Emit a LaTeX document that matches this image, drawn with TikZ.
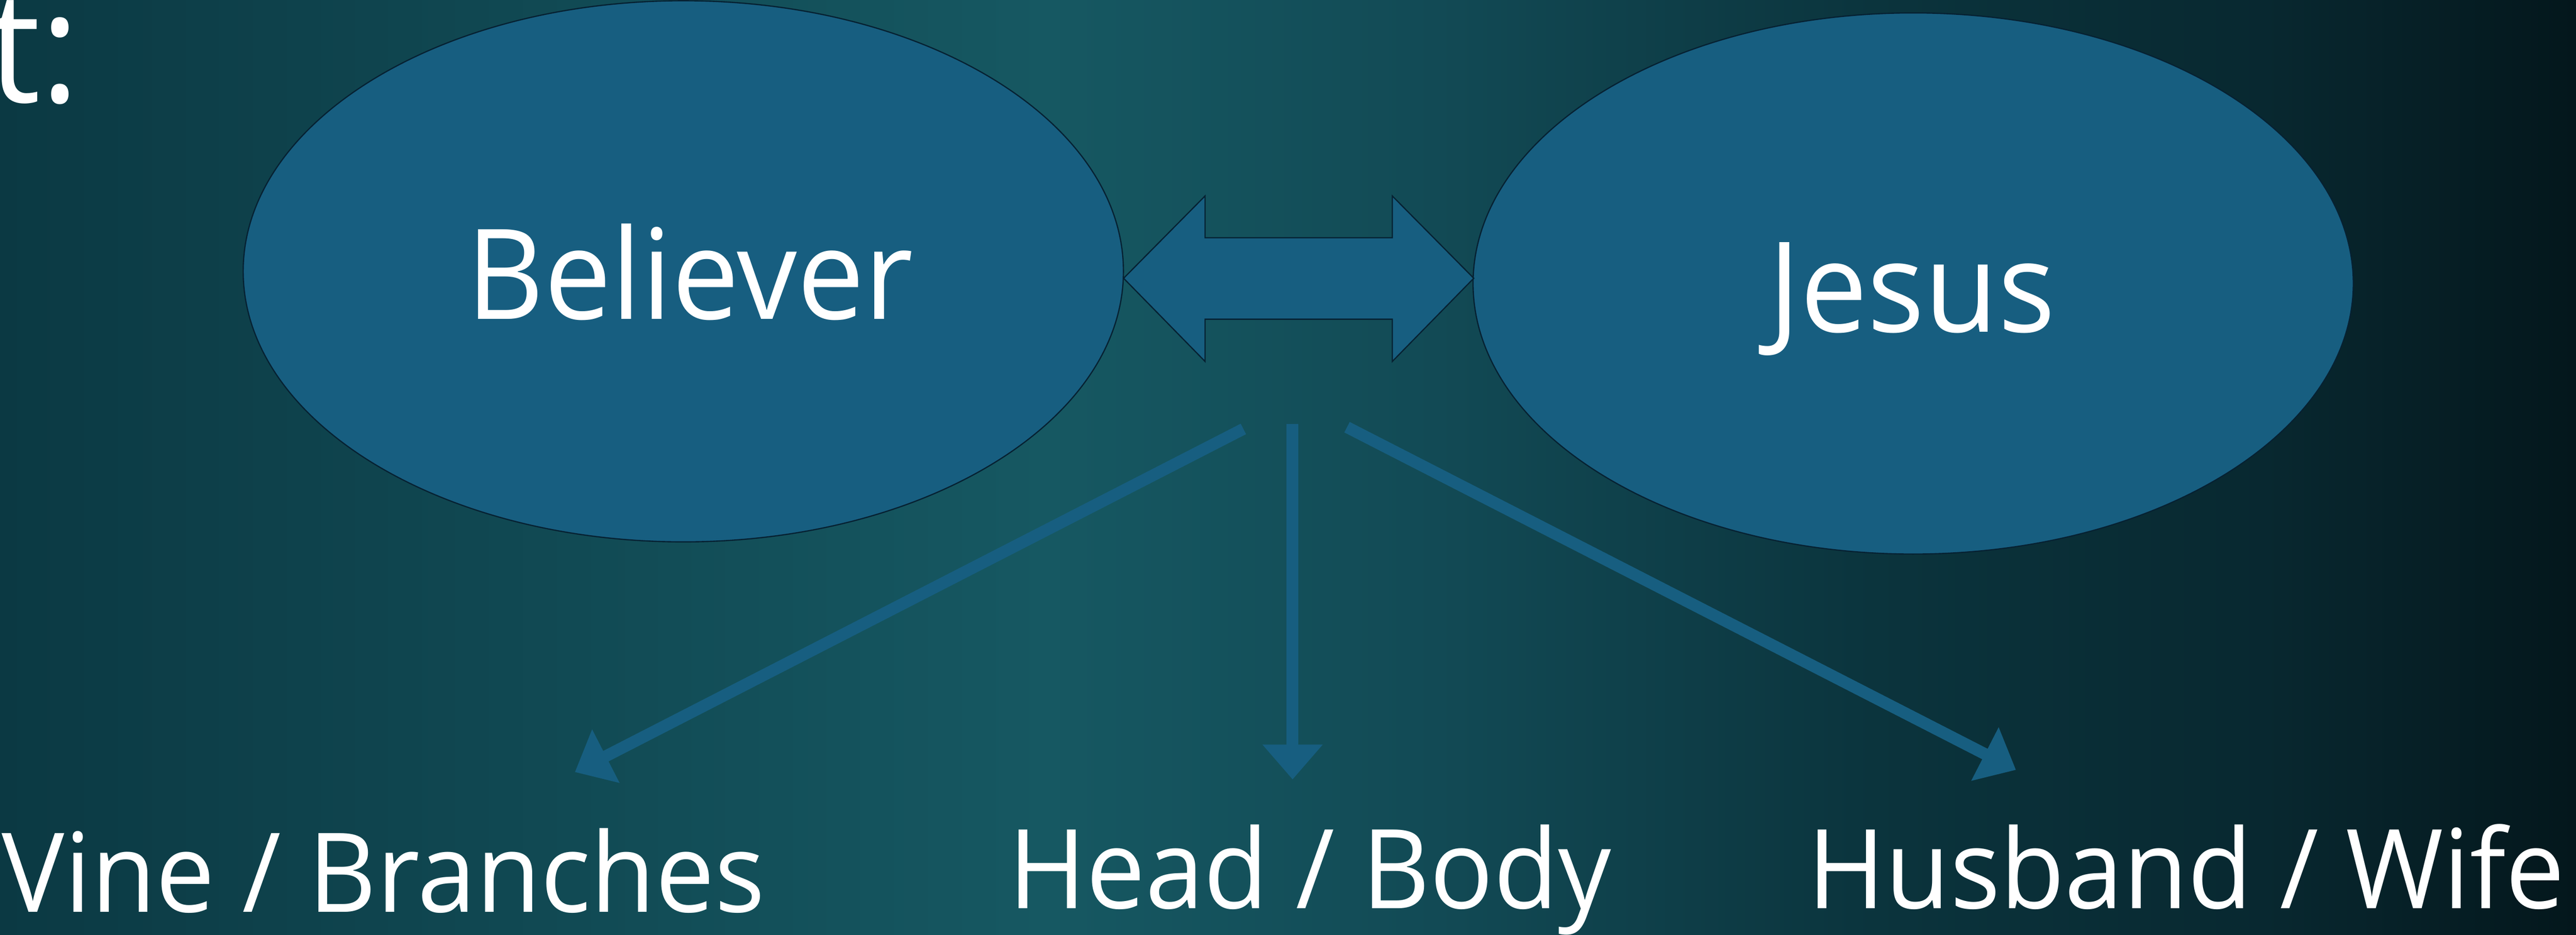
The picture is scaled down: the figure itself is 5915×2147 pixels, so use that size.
\documentclass[tikz,border=0pt]{standalone}
\usepackage{fontspec}
\setmainfont{Open Sans}[FakeStretch=0.955]
\usetikzlibrary{shapes.geometric,arrows.meta}
\definecolor{ovalblue}{RGB}{23,94,128}
\definecolor{ovaledge}{RGB}{6,33,50}
\definecolor{bga}{RGB}{11,57,67}
\definecolor{bgb}{RGB}{22,88,98}
\definecolor{bgc}{RGB}{18,74,85}
\definecolor{bgd}{RGB}{11,52,61}
\definecolor{bge}{RGB}{8,40,48}
\definecolor{bgf}{RGB}{4,23,28}
\tikzset{
  oval/.style={ellipse, fill=ovalblue, draw=ovaledge, line width=0.8pt, minimum width=20.2cm, minimum height=12.42cm, inner sep=0pt},
  ovaltext/.style={text=white, font=\fontsize{82}{98}\selectfont, inner sep=0pt},
  kind/.style={text=white, font=\fontsize{72}{86}\selectfont, inner sep=0pt},
  tie/.style={ovalblue, line width=7.7pt, -{Triangle[width=1.33cm, length=0.8cm]}}
}
\begin{document}
\begin{tikzpicture}[x=0.01cm, y=-0.01cm]
\useasboundingbox (0,0) rectangle (5915,2147);
\clip (0,0) rectangle (5915,2147);
\shade[left color=bga, right color=bgb] (0,0) rectangle (2401,2147);
\shade[left color=bgb, right color=bgc] (2400,0) rectangle (3301,2147);
\shade[left color=bgc, right color=bgd] (3300,0) rectangle (4301,2147);
\shade[left color=bgd, right color=bge] (4300,0) rectangle (5201,2147);
\shade[left color=bge, right color=bgf] (5200,0) rectangle (5915,2147);
\node[text=white, font=\fontsize{101}{120}\selectfont, inner sep=0pt, anchor=base east] (head) at (184,235){t:};
\node[oval] (bel) at (1569,623){};
\node[oval] (jes) at (4393,651){};
\node[ovaltext, anchor=base] (beltxt) at (1584,733){Believer};
\node[ovaltext, anchor=base] (jestxt) at (4390,762){Jesus};
\draw[fill=ovalblue, draw=ovaledge, line width=0.8pt] (2580,639) -- (2767,450) -- (2767,546) -- (3197,546) -- (3197,450) -- (3384,639) -- (3197,830) -- (3197,733) -- (2767,733) -- (2767,830) -- cycle;
\coordinate (src0) at (2855,985);
\coordinate (src1) at (2968,973);
\coordinate (src2) at (3093,981);
\coordinate (tip0) at (1320,1773);
\coordinate (tip1) at (2968,1790);
\coordinate (tip2) at (4629,1768);
\draw[tie] (src0) -- (tip0);
\draw[tie] (src1) -- (tip1);
\draw[tie] (src2) -- (tip2);
\node[kind, anchor=base west] (lab0) at (4,2095){Vine / Branches};
\node[kind, anchor=base] (lab1) at (3008,2086){Head / Body};
\node[kind, anchor=base west] (lab2) at (4150,2086){Husband / Wife};
\end{tikzpicture}
\end{document}
